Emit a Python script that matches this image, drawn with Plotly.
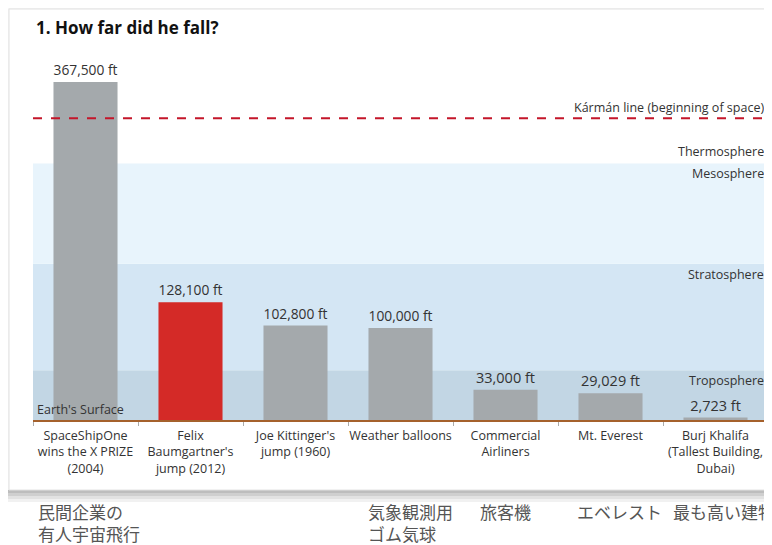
import plotly.graph_objects as go

# ---- data ----
categories = ["SpaceShipOne<br>wins the X PRIZE<br>(2004)",
              "Felix<br>Baumgartner's<br>jump (2012)",
              "Joe Kittinger's<br>jump (1960)",
              "Weather balloons",
              "Commercial<br>Airliners",
              "Mt. Everest",
              "Burj Khalifa<br>(Tallest Building,<br>Dubai)"]
heights_ft = [367500, 128100, 102800, 100000, 33000, 29029, 2723]
bar_colors = ["#A4A9AC", "#D42A27", "#A4A9AC", "#A4A9AC", "#A4A9AC", "#A4A9AC", "#A4A9AC"]
karman_ft = 328084
layer_tops = {"Mesosphere": 279000, "Stratosphere": 170000, "Troposphere": 54000}
layer_colors = {"Mesosphere": "#E8F4FC", "Stratosphere": "#D4E6F4", "Troposphere": "#C2D6E4"}
jp_labels = [(["民間企業の", "有人宇宙飛行"], 36), (["気象観測用", "ゴム気球"], 366),
             (["旅客機"], 478), (["エベレスト"], 575), (["最も高い建物"], 671)]

# page body has an 8px margin: work in screen pixels and offset
O = 8
SW, SH = 772, 545
W, H = SW - O, SH - O
L, R, T, B = 33 - O, 4, 55 - O, SH - 420
PW, PH = W - L - R, H - T - B


def px(x):  # screen x -> paper
    return (x - O - L) / PW


def py(y):  # screen y -> paper
    return (H - B - (y - O)) / PH


FONT = "Open Sans, Noto Sans, sans-serif"

fig = go.Figure()
fig.add_trace(go.Bar(
    x=categories, y=heights_ft, marker=dict(color=bar_colors, line=dict(width=0)),
    text=[f"{v:,} ft" for v in heights_ft], textposition="outside",
    textfont=dict(size=14.5, color="#333", family=FONT), cliponaxis=False,
    hoverinfo="skip"))

shapes = []
# page background / card shadow
shapes.append(dict(type="rect", xref="paper", yref="paper", x0=px(0), x1=px(SW + 10), y0=py(0), y1=py(9),
                   fillcolor="#F4F4F4", line_width=0, layer="below"))
shapes.append(dict(type="rect", xref="paper", yref="paper", x0=px(0), x1=px(9), y0=py(0), y1=py(490),
                   fillcolor="#F4F4F4", line_width=0, layer="below"))
for (a, b, c) in [(490, 493, "#BDBDBD"), (493, 496, "#CFCFCF"), (496, 499, "#E2E2E2"), (499, 502, "#F1F1F1")]:
    shapes.append(dict(type="rect", xref="paper", yref="paper", x0=px(4), x1=px(SW + 10), y0=py(a), y1=py(b),
                       fillcolor=c, line_width=0, layer="below"))
shapes.append(dict(type="rect", xref="paper", yref="paper", x0=px(9), x1=px(SW + 10), y0=py(9), y1=py(490),
                   fillcolor="white", line=dict(color="#E2E2E2", width=1), layer="below"))
# atmosphere bands
bounds = [("Troposphere", 0), ("Stratosphere", layer_tops["Troposphere"]), ("Mesosphere", layer_tops["Stratosphere"])]
for name, lo in bounds:
    shapes.append(dict(type="rect", xref="paper", yref="y", x0=0, x1=px(SW + 10), y0=lo, y1=layer_tops[name],
                       fillcolor=layer_colors[name], line_width=0, layer="below"))
# Karman line
shapes.append(dict(type="line", xref="paper", yref="y", x0=0, x1=px(SW + 10), y0=karman_ft, y1=karman_ft,
                   line=dict(color="#C4162A", width=2, dash="dash"), layer="above"))

ann = []
ann.append(dict(text="<b>1. How far did he fall?</b>", xref="paper", yref="paper", x=px(34), y=py(27),
                xanchor="left", yanchor="middle", showarrow=False, font=dict(size=17, color="#111", family=FONT)))
lab_font = dict(size=12.5, color="#333", family=FONT)
rx = px(766)
ann.append(dict(text="Kármán line (beginning of space)", xref="paper", yref="y", x=rx, y=karman_ft,
                xanchor="right", yanchor="bottom", yshift=0, showarrow=False, font=lab_font))
ann.append(dict(text="Thermosphere", xref="paper", yref="y", x=rx, y=layer_tops["Mesosphere"],
                xanchor="right", yanchor="bottom", yshift=1, showarrow=False, font=lab_font))
for name in ["Mesosphere", "Stratosphere", "Troposphere"]:
    ann.append(dict(text=name, xref="paper", yref="y", x=rx, y=layer_tops[name],
                    xanchor="right", yanchor="top", yshift=0, showarrow=False, font=lab_font))
ann.append(dict(text="Earth's Surface", xref="paper", yref="y", x=px(35), y=0,
                xanchor="left", yanchor="bottom", yshift=0, showarrow=False, font=lab_font))
for lines, xp in jp_labels:
    for i, txt in enumerate(lines):
        ann.append(dict(text=txt, xref="paper", yref="paper", x=px(xp), y=py(511 + 22 * i),
                        xanchor="left", yanchor="middle", align="left", showarrow=False,
                        font=dict(size=17, color="#555", family="Noto Sans CJK JP")))

fig.update_layout(
    width=W, height=H, margin=dict(l=L, r=R, t=T, b=B, autoexpand=False),
    paper_bgcolor="white", plot_bgcolor="rgba(0,0,0,0)",
    bargap=0.39, showlegend=False, shapes=shapes, annotations=ann,
    font=dict(family=FONT, color="#333"),
    xaxis=dict(type="category", tickson="boundaries", ticks="outside", ticklen=4, tickcolor="#AAA",
               showline=True, linecolor="#A5612C", linewidth=2, showgrid=False,
               tickangle=0, automargin=False, ticklabelstandoff=3,
               tickfont=dict(size=12.5, color="#333", family=FONT)),
    yaxis=dict(range=[0, 397000], visible=False, showgrid=False, zeroline=False, automargin=False),
)
fig.write_html("out.html")
